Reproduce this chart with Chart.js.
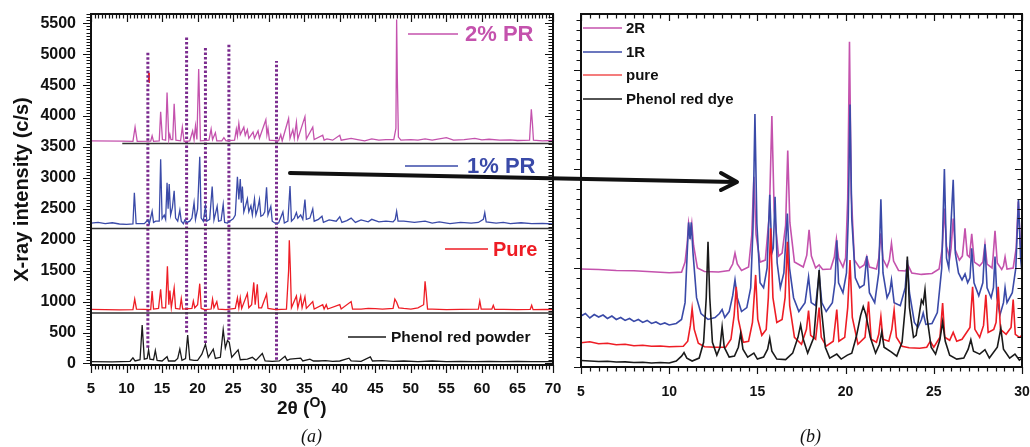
<!DOCTYPE html>
<html lang="en">
<head>
<meta charset="UTF-8">
<title>XRD patterns</title>
<script src="https://cdn.jsdelivr.net/npm/chart.js"></script>
<style>
  body { margin: 0; background: #fff; font-family: Arial, "Liberation Sans", sans-serif; }
  #page { position: relative; width: 1030px; height: 447px; overflow: hidden; background: #fff; }
  .panel { position: absolute; top: 0; }
  #arrow { position: absolute; left: 0; top: 0; pointer-events: none; }
  .xtitle { position: absolute; left: 277px; top: 398px; font-weight: bold; font-size: 19px; line-height: 19px; color: #111; white-space: nowrap; }
  .xtitle span { position: relative; top: -7px; font-size: 14px; }
  .caption { position: absolute; top: 426px; font-family: "Liberation Serif", "Times New Roman", serif; font-style: italic; font-size: 18px; color: #111; }
</style>
</head>
<body>
<div id="page">
  <canvas id="chartA" class="panel" style="left:0" width="570" height="447"></canvas>
  <canvas id="chartB" class="panel" style="left:565px" width="465" height="447"></canvas>
  <canvas id="arrow" width="1030" height="447"></canvas>
  <div class="xtitle">2θ (<span>O</span>)</div>
  <div class="caption" style="left:301px">(a)</div>
  <div class="caption" style="left:800px">(b)</div>
</div>

<script>
// ---------- panel (a): 2θ (deg) vs intensity (c/s), stacked patterns ----------
const xTicksA = [5, 10, 15, 20, 25, 30, 35, 40, 45, 50, 55, 60, 65, 70];
const yTicksA = [0, 500, 1000, 1500, 2000, 2500, 3000, 3500, 4000, 4500, 5000, 5500];

const pr2A = [[5,3600],[9.4,3595],[10.9,3590],[11.2,3820],[11.5,3590],[13.4,3595],[13.6,3680],[13.8,3590],[14.6,3600],[14.8,4070],[15.05,3620],[15.5,3610],[15.7,4380],[15.95,3620],[16.1,3700],[16.25,3620],[16.5,3620],[16.7,4200],[16.95,3610],[17.6,3600],[17.85,3820],[18.1,3590],[18.9,3600],[19.3,3760],[19.5,3620],[19.7,3840],[19.9,3620],[20.15,4760],[20.4,3600],[21.6,3610],[21.9,3790],[22.1,3620],[22.5,3730],[22.7,3600],[23.4,3600],[23.7,3650],[24.0,3600],[25.2,3610],[25.45,3790],[25.6,3680],[25.8,3880],[26.0,3700],[26.5,3820],[26.7,3690],[27.0,3780],[27.2,3640],[27.8,3740],[28.0,3640],[28.5,3760],[28.7,3640],[29.6,3940],[29.75,3700],[29.9,3800],[30.1,3610],[31.4,3600],[31.7,3700],[31.9,3600],[32.8,3960],[33.0,3640],[33.4,3780],[33.6,3640],[33.9,3900],[34.1,3630],[35.1,3990],[35.3,3630],[36.2,3820],[36.4,3620],[37.6,3690],[37.8,3610],[38.2,3630],[39.0,3610],[40.0,3690],[40.2,3610],[41.6,3640],[42.5,3620],[43.5,3600],[44.5,3630],[45.5,3610],[46.5,3620],[47.6,3620],[47.9,3800],[48.0,5560],[48.1,4600],[48.25,3660],[48.6,3610],[50,3620],[51,3610],[52,3630],[53,3610],[55,3650],[56,3610],[57.5,3620],[59,3640],[60,3615],[61,3625],[62.5,3610],[64,3615],[65,3605],[66.7,3610],[66.95,4110],[67.1,3890],[67.25,3610],[68.5,3600],[70,3605]];

const pr1A = [[5,2270],[6,2280],[7,2260],[8,2275],[9,2255],[10,2250],[10.9,2255],[11.1,2760],[11.35,2260],[12.5,2260],[13.0,2320],[13.2,2260],[13.6,2460],[13.8,2280],[14.1,2300],[14.6,2300],[14.8,3300],[15.0,2340],[15.3,2400],[15.5,2330],[15.7,2920],[15.85,2500],[16.0,2900],[16.2,2400],[16.45,2520],[16.7,2790],[16.9,2350],[17.2,2300],[17.5,2480],[17.7,2300],[18.0,2260],[18.2,2320],[18.5,2280],[18.9,2300],[19.2,2350],[19.5,2600],[19.7,2330],[20.0,2500],[20.3,3340],[20.5,2350],[20.8,2300],[21.1,2540],[21.3,2300],[21.7,2330],[22.05,2860],[22.3,2320],[22.75,2540],[22.95,2300],[23.3,2310],[23.6,2570],[23.8,2280],[24.2,2270],[24.5,2300],[25.0,2340],[25.3,2400],[25.6,3020],[25.8,2650],[26.0,2980],[26.15,2600],[26.3,2860],[26.5,2450],[26.75,2550],[27.0,2660],[27.2,2450],[27.5,2550],[27.7,2400],[28.0,2660],[28.2,2400],[28.45,2500],[28.7,2650],[28.9,2380],[29.2,2400],[29.45,2450],[29.7,2850],[29.9,2400],[30.3,2540],[30.5,2300],[31.0,2260],[31.4,2270],[32.0,2450],[32.2,2270],[32.7,2300],[33.0,2870],[33.2,2300],[33.6,2350],[33.9,2440],[34.1,2350],[34.5,2400],[34.8,2330],[35.1,2650],[35.3,2330],[35.8,2350],[36.2,2500],[36.4,2300],[37.0,2330],[37.5,2380],[37.7,2280],[38.5,2320],[39.5,2300],[40.0,2370],[40.3,2280],[41.0,2310],[41.6,2350],[42.2,2280],[43.0,2320],[44.0,2290],[44.5,2330],[45.5,2290],[46.5,2300],[47.5,2290],[47.8,2330],[48.0,2460],[48.2,2300],[49,2300],[50.5,2280],[52,2300],[53,2270],[54,2290],[55.5,2260],[57,2280],[58.5,2270],[59.5,2280],[60.2,2330],[60.4,2440],[60.6,2290],[62,2270],[63,2280],[64,2260],[65.5,2275],[67,2260],[68.5,2265],[70,2255]];

const pureA = [[5,875],[7,870],[9,865],[10.9,870],[11.15,1040],[11.4,880],[13.4,870],[13.6,1170],[13.8,880],[14.5,890],[14.8,1200],[15.0,900],[15.5,900],[15.75,1570],[15.95,950],[16.1,1180],[16.3,900],[16.7,1220],[16.9,890],[17.5,880],[17.7,1050],[17.9,880],[19.2,890],[19.4,1010],[19.6,900],[20.0,950],[20.3,1290],[20.5,890],[21.0,870],[21.9,880],[22.1,1040],[22.3,900],[22.7,1000],[22.9,880],[24.0,870],[24.5,880],[25.3,890],[25.6,1060],[25.8,900],[26.0,1060],[26.2,890],[27.0,1130],[27.2,900],[27.6,950],[27.9,1310],[28.1,950],[28.4,1280],[28.6,900],[29.0,900],[29.7,1120],[29.9,890],[31,870],[32.5,880],[32.8,1500],[32.9,1990],[33.05,1520],[33.2,900],[33.9,1090],[34.1,900],[34.5,1090],[34.7,900],[35.1,1080],[35.3,890],[36.2,1000],[36.4,880],[37.6,950],[37.8,880],[38.1,950],[38.3,880],[40.0,950],[40.2,880],[41.6,1000],[41.8,880],[43,880],[44,890],[45,885],[46,880],[47.5,890],[47.75,1040],[48.0,990],[48.3,900],[49,890],[50,880],[51,900],[51.8,950],[52.0,1330],[52.15,1150],[52.35,880],[53,880],[55,870],[57,875],[59.5,880],[59.7,1010],[59.9,880],[61.4,880],[61.6,940],[61.8,875],[63,875],[65,870],[66.8,875],[67.0,940],[67.2,870],[69,875],[70,870]];

const powderA = [[5,30],[8,25],[10.5,35],[10.9,90],[11.2,40],[11.9,60],[12.2,620],[12.5,70],[12.9,80],[13.1,220],[13.3,70],[13.8,60],[14.05,210],[14.3,50],[15.0,40],[15.7,110],[15.9,40],[16.8,40],[17.2,80],[17.5,230],[17.8,50],[18.3,80],[18.6,460],[18.9,60],[19.5,50],[20.0,50],[20.6,150],[21.1,310],[21.5,100],[22.2,230],[22.5,80],[23.2,100],[23.6,545],[23.9,250],[24.2,370],[24.45,340],[24.8,100],[25.7,220],[26.0,60],[27.0,70],[27.7,100],[28.2,50],[29.1,160],[29.5,40],[30.5,35],[31.5,40],[32.3,115],[32.6,50],[33,70],[34.5,85],[34.8,40],[35.8,70],[36.3,40],[37,40],[38,45],[39,35],[40,40],[41.3,85],[41.6,40],[43,35],[44.3,105],[44.6,40],[46,45],[47.5,35],[49,40],[51,30],[53,40],[55,30],[57,35],[59,30],[61,35],[63,30],[65,35],[67,30],[70,30]];

// [from 2θ, to 2θ, level] horizontal black separators between patterns
const separatorsA = [[9.4, 70, 3555], [5, 70, 2182], [5, 70, 816]];
// [2θ, bottom, top] dotted guide lines
const guidesA = [[13.0, 255, 5030], [18.45, 500, 5270], [21.1, 330, 5120], [24.4, 385, 5180], [31.1, 60, 4890]];
const strayMarkA = [[13.1, 4550], [13.15, 4700]];

// ---------- panel (b): zoom 5-30°, arbitrary offset intensity ----------
const xTicksB = [5, 10, 15, 20, 25, 30];

const r2B = [[5,990],[6,985],[7,975],[8,972],[9,962],[10,952],[10.7,958],[10.9,1060],[11.02,1250],[11.1,1450],[11.19,1330],[11.28,1450],[11.38,1230],[11.6,1000],[12.0,965],[12.8,960],[13.4,975],[13.6,1040],[13.73,1150],[13.86,1040],[14.1,975],[14.5,1010],[14.68,1330],[14.8,1920],[14.92,1340],[15.15,1060],[15.45,1080],[15.68,1550],[15.82,2535],[15.95,1580],[16.2,1120],[16.4,1150],[16.6,1430],[16.72,2185],[16.84,1460],[17.1,1060],[17.6,1010],[17.8,1130],[17.93,1385],[18.06,1120],[18.3,1000],[18.5,1030],[18.7,985],[19.15,990],[19.36,1110],[19.48,1290],[19.6,1100],[19.85,1010],[20.0,1100],[20.12,1700],[20.22,3285],[20.32,1750],[20.5,1080],[20.8,1000],[21.05,1030],[21.2,1115],[21.35,1010],[21.75,990],[21.88,1100],[22.0,1350],[22.12,1090],[22.35,1010],[22.48,1080],[22.6,1250],[22.72,1070],[23.0,975],[23.4,970],[23.56,1020],[23.75,950],[24.3,935],[24.9,945],[25.3,990],[25.48,1200],[25.6,1600],[25.72,1220],[25.9,1100],[25.98,1200],[26.1,1500],[26.22,1180],[26.45,1080],[26.62,1120],[26.77,1400],[26.9,1130],[27.02,1110],[27.15,1345],[27.3,1060],[27.6,1020],[27.78,1060],[27.9,1240],[28.02,1040],[28.3,1000],[28.36,1110],[28.47,1375],[28.6,1050],[28.85,985],[28.95,1020],[29.04,1110],[29.15,990],[29.5,1000],[29.67,1200],[29.79,1670],[29.9,1250],[30,1120]];

const r1B = [[5,515],[5.25,540],[5.5,495],[5.75,530],[6,505],[6.25,525],[6.5,490],[6.75,515],[7,480],[7.25,500],[7.5,470],[7.75,490],[8,460],[8.25,480],[8.5,450],[8.75,470],[9,440],[9.25,455],[9.5,430],[9.75,445],[10,425],[10.4,440],[10.7,480],[10.9,650],[11.02,1150],[11.1,1460],[11.18,1290],[11.25,1460],[11.35,1150],[11.55,700],[11.8,540],[12.2,480],[12.6,500],[12.85,540],[13.0,580],[13.15,500],[13.4,560],[13.6,720],[13.73,880],[13.86,700],[14.1,560],[14.4,600],[14.62,800],[14.75,1400],[14.86,2555],[14.97,1450],[15.15,850],[15.35,800],[15.55,1000],[15.7,1740],[15.82,1150],[15.9,1200],[16.0,1720],[16.12,1050],[16.3,800],[16.5,950],[16.7,1550],[16.82,1000],[17.05,700],[17.35,560],[17.7,650],[17.9,910],[18.05,650],[18.3,620],[18.5,940],[18.65,650],[18.9,560],[19.25,650],[19.4,850],[19.5,1280],[19.6,850],[19.85,750],[20.05,950],[20.15,1500],[20.25,2650],[20.35,1500],[20.55,900],[20.8,800],[21.05,830],[21.2,1120],[21.35,750],[21.65,650],[21.88,950],[22.0,1695],[22.12,950],[22.35,700],[22.5,760],[22.6,880],[22.75,650],[23.1,620],[23.38,800],[23.5,1080],[23.62,750],[23.9,450],[24.1,400],[24.3,480],[24.4,545],[24.55,430],[24.9,440],[25.2,550],[25.45,1000],[25.6,2000],[25.72,1100],[25.85,1000],[26.1,1890],[26.22,1150],[26.4,950],[26.6,880],[26.77,940],[26.92,850],[27.05,900],[27.15,1200],[27.28,850],[27.55,720],[27.78,850],[27.9,1240],[28.02,800],[28.25,700],[28.38,800],[28.47,1115],[28.58,700],[28.75,525],[28.95,650],[29.04,800],[29.15,650],[29.45,750],[29.65,1000],[29.8,1695],[29.92,1100],[30,950]];

const pureB = [[5,245],[5.5,255],[6,235],[6.5,240],[7,225],[7.5,230],[8,215],[8.5,220],[9,210],[9.5,212],[10,205],[10.8,210],[11.05,260],[11.2,420],[11.3,590],[11.42,380],[11.65,240],[12.0,205],[12.6,200],[13.2,200],[13.5,280],[13.68,520],[13.8,810],[13.92,480],[14.2,250],[14.5,260],[14.72,450],[14.9,930],[15.02,480],[15.25,320],[15.5,380],[15.62,700],[15.75,1400],[15.88,700],[16.1,450],[16.4,480],[16.57,700],[16.7,1265],[16.83,620],[17.1,300],[17.5,230],[17.78,380],[17.9,570],[18.02,320],[18.3,280],[18.5,600],[18.62,300],[18.9,210],[19.3,260],[19.5,580],[19.62,260],[19.95,300],[20.12,600],[20.25,1080],[20.38,500],[20.7,230],[21.1,300],[21.3,660],[21.45,280],[21.75,250],[21.88,330],[22.0,510],[22.12,280],[22.45,260],[22.62,380],[22.75,575],[22.88,300],[23.2,210],[23.6,195],[24.2,190],[24.6,200],[24.8,260],[25.0,200],[25.35,300],[25.5,645],[25.62,300],[25.9,270],[26.1,350],[26.3,260],[26.6,280],[27.05,400],[27.2,810],[27.33,380],[27.6,300],[27.82,420],[27.95,730],[28.08,350],[28.4,380],[28.53,450],[28.65,810],[28.78,380],[29.1,330],[29.38,400],[29.5,680],[29.62,330],[29.85,300],[30,320]];

const dyeB = [[5,65],[5.5,60],[6,55],[6.5,58],[7,50],[7.5,52],[8,45],[8.5,48],[9,40],[9.5,45],[10,40],[10.4,60],[10.7,110],[10.84,145],[11.0,90],[11.3,60],[11.7,90],[11.95,250],[12.1,700],[12.2,1265],[12.3,700],[12.45,250],[12.7,120],[12.88,200],[13.0,405],[13.12,200],[13.4,100],[13.7,110],[13.92,200],[14.05,340],[14.18,180],[14.45,100],[14.8,140],[15.0,80],[15.35,100],[15.58,180],[15.7,290],[15.82,160],[16.1,80],[16.6,75],[17.0,140],[17.3,300],[17.45,425],[17.6,280],[17.85,140],[18.2,300],[18.38,700],[18.5,980],[18.62,600],[18.85,200],[19.1,90],[19.5,130],[19.75,80],[20.1,120],[20.35,140],[20.6,300],[20.85,520],[21.0,610],[21.15,530],[21.4,300],[21.7,140],[21.92,230],[22.05,355],[22.18,200],[22.6,150],[22.9,110],[23.2,250],[23.38,600],[23.5,1115],[23.62,600],[23.85,300],[24.0,320],[24.2,560],[24.3,675],[24.4,640],[24.5,780],[24.62,500],[24.85,200],[25.1,130],[25.35,280],[25.5,455],[25.65,260],[25.9,120],[26.3,80],[26.7,90],[26.95,180],[27.1,275],[27.25,160],[27.6,130],[27.9,175],[28.15,90],[28.6,200],[28.8,390],[28.95,180],[29.3,90],[29.6,130],[29.85,70],[30,90]];

// ---------- styling ----------
const PINK = '#c452ad', BLUE = '#3a4aa8', RED = '#ee1d25', BLACK = '#1a1a1a', PURPLE = '#7a2b8e';
const FONT = 'Arial, "Liberation Sans", sans-serif';
Chart.defaults.font.family = FONT;
Chart.defaults.color = '#111';

function trace(points, color, width, dash) {
  return {
    data: points.map(p => ({ x: p[0], y: p[1] })),
    borderColor: color, borderWidth: width || 1.3, borderDash: dash || [],
    pointRadius: 0, fill: false, tension: 0
  };
}

// fix the axis box size and drop the label overhang padding so the plot frame lands where we want
function fixBox(size) {
  return s => {
    if (s.isHorizontal()) s.height = size; else s.width = size;
    s.paddingTop = 0; s.paddingBottom = 0; s.paddingLeft = 0; s.paddingRight = 0;
  };
}

// frame with major/minor ticks: outward on left/bottom, inward on top/right
function framePlugin(cfg) {
  return {
    id: 'frame',
    afterDraw(chart) {
      const { ctx, chartArea: a, scales: { x, y } } = chart;
      const isMajor = (v, s) => Math.abs(v / s - Math.round(v / s)) < 1e-6;
      ctx.save();
      ctx.strokeStyle = '#111';
      ctx.lineWidth = 1.2;
      ctx.beginPath();
      for (let v = x.min; v <= x.max + 1e-9; v += cfg.xMinor) {
        const px = Math.round(x.getPixelForValue(v)) + 0.5;
        const m = isMajor(v, cfg.xMajor);
        ctx.moveTo(px, a.bottom); ctx.lineTo(px, a.bottom + (m ? cfg.major : cfg.minor));
        ctx.moveTo(px, a.top); ctx.lineTo(px, a.top + (m ? cfg.major : cfg.minor));
      }
      for (let v = cfg.yFrom; v <= y.max + 1e-9; v += cfg.yMinor) {
        const py = Math.round(y.getPixelForValue(v)) + 0.5;
        const m = isMajor(v, cfg.yMajor);
        ctx.moveTo(a.left, py); ctx.lineTo(a.left - (m ? cfg.major : cfg.minor), py);
        ctx.moveTo(a.right, py); ctx.lineTo(a.right - (m ? cfg.major : cfg.minor), py);
      }
      ctx.stroke();
      ctx.lineWidth = 2;
      ctx.strokeRect(a.left, a.top, a.right - a.left, a.bottom - a.top);
      ctx.restore();
    }
  };
}

function labelPlugin(items) {
  return {
    id: 'labels',
    afterDraw(chart) {
      const ctx = chart.ctx;
      ctx.save();
      items.forEach(it => {
        ctx.strokeStyle = it.color;
        ctx.lineWidth = 1.3;
        ctx.beginPath();
        ctx.moveTo(it.x1, it.y); ctx.lineTo(it.x2, it.y);
        ctx.stroke();
        ctx.font = it.font;
        ctx.fillStyle = it.textColor || it.color;
        ctx.textBaseline = 'middle';
        ctx.fillText(it.text, it.tx, it.y + 1);
      });
      ctx.restore();
    }
  };
}

const tickFont = size => ({ size: size, weight: 'bold' });
const plain = v => String(v);

// ---------- chart (a) ----------
const dsA = [
  trace(pr2A, PINK), trace(pr1A, BLUE), trace(pureA, RED), trace(powderA, BLACK),
  ...separatorsA.map(s => trace([[s[0], s[2]], [s[1], s[2]]], '#333', 1.5)),
  ...guidesA.map(g => trace([[g[0], g[1]], [g[0], g[2]]], PURPLE, 3, [2.5, 2])),
  trace(strayMarkA, RED, 2)
];

new Chart(document.getElementById('chartA'), {
  type: 'line',
  data: { datasets: dsA },
  options: {
    responsive: false, animation: false, events: [],
    layout: { padding: { top: 14, right: 17, left: 0, bottom: 0 } },
    plugins: { legend: { display: false }, tooltip: { enabled: false } },
    scales: {
      x: {
        type: 'linear', min: 5, max: 70,
        grid: { display: false, drawTicks: false }, border: { display: false },
        afterBuildTicks: s => { s.ticks = xTicksA.map(v => ({ value: v })); },
        afterFit: fixBox(82),
        ticks: { padding: 15, font: tickFont(15), color: '#111', maxRotation: 0, autoSkip: false, callback: plain }
      },
      y: {
        type: 'linear', min: -25, max: 5650,
        grid: { display: false, drawTicks: false }, border: { display: false },
        afterBuildTicks: s => { s.ticks = yTicksA.map(v => ({ value: v })); },
        afterFit: fixBox(91),
        ticks: { padding: 15, font: tickFont(16), color: '#111', autoSkip: false, callback: plain },
        title: { display: true, text: 'X-ray intensity (c/s)', font: { size: 20, weight: 'bold' }, color: '#111', padding: { top: 10, bottom: 0 } }
      }
    }
  },
  plugins: [
    framePlugin({ xMinor: 0.5, xMajor: 5, yFrom: 0, yMinor: 50, yMajor: 500, major: 8, minor: 4.5 }),
    labelPlugin([
      { x1: 408, x2: 458, y: 34, tx: 465, text: '2% PR', color: PINK, font: 'bold 22px ' + FONT },
      { x1: 405, x2: 458, y: 166, tx: 467, text: '1% PR', color: BLUE, font: 'bold 22px ' + FONT },
      { x1: 445, x2: 488, y: 249, tx: 493, text: 'Pure', color: RED, font: 'bold 20px ' + FONT },
      { x1: 348, x2: 386, y: 337, tx: 391, text: 'Phenol red powder', color: BLACK, textColor: '#111', font: 'bold 15.5px ' + FONT }
    ])
  ]
});

// ---------- chart (b) ----------
const dsB = [trace(dyeB, BLACK, 1.6), trace(pureB, RED, 1.6), trace(r1B, BLUE, 1.6), trace(r2B, PINK, 1.6)];

new Chart(document.getElementById('chartB'), {
  type: 'line',
  data: { datasets: dsB },
  options: {
    responsive: false, animation: false, events: [],
    layout: { padding: { top: 14, right: 8, left: 0, bottom: 0 } },
    plugins: { legend: { display: false }, tooltip: { enabled: false } },
    scales: {
      x: {
        type: 'linear', min: 5, max: 30,
        grid: { display: false, drawTicks: false }, border: { display: false },
        afterBuildTicks: s => { s.ticks = xTicksB.map(v => ({ value: v })); },
        afterFit: fixBox(80),
        ticks: { padding: 17, font: tickFont(14), color: '#111', maxRotation: 0, autoSkip: false, callback: plain }
      },
      y: {
        type: 'linear', min: 0, max: 3565,
        grid: { display: false, drawTicks: false }, border: { display: false },
        afterFit: fixBox(16),
        ticks: { display: false }
      }
    }
  },
  plugins: [
    framePlugin({ xMinor: 0.5, xMajor: 5, yFrom: 0, yMinor: 100, yMajor: 1000, major: 7, minor: 4.5 }),
    labelPlugin([
      { x1: 18, x2: 57, y: 28, tx: 61, text: '2R', color: PINK, textColor: '#111', font: 'bold 15px ' + FONT },
      { x1: 18, x2: 57, y: 52, tx: 61, text: '1R', color: BLUE, textColor: '#111', font: 'bold 15px ' + FONT },
      { x1: 18, x2: 57, y: 75, tx: 61, text: 'pure', color: '#f05050', textColor: '#111', font: 'bold 15px ' + FONT },
      { x1: 18, x2: 57, y: 99, tx: 61, text: 'Phenol red dye', color: BLACK, textColor: '#111', font: 'bold 15px ' + FONT }
    ])
  ]
});

// ---------- connecting arrow between the panels ----------
const ac = document.getElementById('arrow').getContext('2d');
ac.strokeStyle = '#111';
ac.lineWidth = 4;
ac.lineCap = 'round';
ac.lineJoin = 'round';
ac.beginPath();
ac.moveTo(290, 173);
ac.lineTo(735, 182);
ac.stroke();
ac.beginPath();
ac.moveTo(721, 173);
ac.lineTo(737, 182);
ac.lineTo(721, 190);
ac.stroke();
</script>
</body>
</html>
